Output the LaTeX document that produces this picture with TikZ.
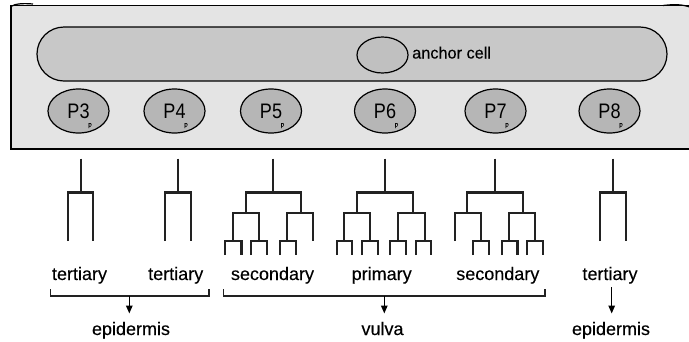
\documentclass[tikz,border=0pt]{standalone}
\usepackage{fontspec}
\setmainfont{Liberation Sans}
\newfontfamily\cellfont[FakeStretch=0.86]{Liberation Sans}
\newfontfamily\labfont[FakeBold=0.2]{Liberation Sans}
\usetikzlibrary{shapes.geometric,arrows.meta}

\definecolor{panel}{HTML}{E4E4E4}
\definecolor{gonad}{HTML}{C8C8C8}
\definecolor{pcell}{HTML}{B6B6B6}
\definecolor{acell}{HTML}{C0C0C0}
\definecolor{ink}{HTML}{222222}

\tikzset{
  lin/.style={draw=ink, line width=2.1pt, line join=miter},
  brk/.style={draw=ink, line width=1.4pt},
  arr/.style={draw=black, line width=1.4pt, -{Triangle[length=8pt,width=6.5pt]}},
  precursor/.style={ellipse, draw=black, line width=1.2pt, fill=pcell,
    minimum width=61pt, minimum height=44pt, inner sep=0pt,
    font=\cellfont\fontsize{21}{23}\selectfont},
  tinyp/.style={inner sep=0pt, font=\labfont\fontsize{6.5}{7}\selectfont},
  fate/.style={inner sep=0pt, anchor=base, font=\labfont\fontsize{18}{20}\selectfont},
}

% vertical stalk of a lineage
\newcommand\stalk[3]{\draw[lin] (#1,#2) -- (#1,#3);}
% inverted U: centre x, bar y, half width, bottom of left leg, bottom of right leg
\newcommand\ufork[5]{\draw[lin] ({#1-#3},#4) -- ({#1-#3},#2) -- ({#1+#3},#2) -- ({#1+#3},#5);}

\begin{document}
\begin{tikzpicture}[x=1pt,y=-1pt]
\useasboundingbox (0,0) rectangle (689,341);

% body wall panel
\begin{scope}
  \clip (0,0) rectangle (689,341);
  \draw[fill=panel, line width=1.4pt] (11,5.5) rectangle (700,149);
  \draw[line width=1.2pt] (11,6.5) .. controls (15,3.5) and (24,3.2) .. (33,4);
  \draw[line width=1.2pt] (663,5.5) .. controls (672,4.5) and (682,3.5) .. (692,8);
\end{scope}

% gonad and anchor cell
\draw[fill=gonad, line width=1.2pt, rounded corners=27pt] (37,27) rectangle (667,81);
\node[ellipse, draw=black, line width=1.2pt, fill=acell, minimum width=51pt,
  minimum height=36pt, inner sep=0pt] (ac) at (382.5,55) {};
\node[inner sep=0pt, anchor=base west, font=\labfont\fontsize{16.3}{18}\selectfont]
  (aclab) at (412,58.5) {anchor cell};

% vulval precursor cells
\foreach \n/\x in {3/78.5, 4/174.5, 5/271, 6/385, 7/495.5, 8/609.5} {
  \node[precursor] (p\n) at (\x,111) {P\n};
  \node[tinyp] (p\n s) at ([shift={(11.5,14.6)}]p\n.center) {p};
}

% lineages
% P3.p, P4.p: tertiary
\stalk{80.7}{158.5}{192.5}  \ufork{80.7}{192.5}{12.5}{241}{241}
\stalk{177.8}{158.5}{192.5} \ufork{177.8}{192.5}{12.8}{241}{241}
% P5.p: secondary
\stalk{273.3}{158.5}{192.5} \ufork{273.3}{192.5}{27.5}{213}{213}
\ufork{246}{213}{13.3}{240.8}{240.8}
\ufork{300.3}{213}{13}{240.8}{241}
\ufork{233.3}{240.8}{8.2}{255}{255}
\ufork{258.8}{240.8}{7.8}{255}{255}
\ufork{287.8}{240.8}{7.8}{255}{255}
% P6.p: primary
\stalk{384.6}{158.5}{192.5} \ufork{384.6}{192.5}{28}{213}{213}
\ufork{357}{213}{13}{240.8}{240.8}
\ufork{411.7}{213}{13.3}{240.8}{240.8}
\ufork{344.2}{240.8}{7.6}{255}{255}
\ufork{370}{240.8}{7.6}{255}{255}
\ufork{398}{240.8}{7.8}{255}{255}
\ufork{423.3}{240.8}{7.6}{255}{255}
% P7.p: secondary
\stalk{494.6}{158.5}{192.5} \ufork{494.6}{192.5}{28}{213}{213}
\ufork{468}{213}{13}{241}{240.8}
\ufork{522.2}{213}{12.8}{240.8}{240.8}
\ufork{480.8}{240.8}{8}{255}{255}
\ufork{509.7}{240.8}{7.8}{255}{255}
\ufork{535}{240.8}{7.7}{255}{255}
% P8.p: tertiary
\stalk{612.8}{158.5}{192.5} \ufork{612.8}{192.5}{12.8}{241}{241}

% fates
\node[fate] (f3) at (79.5,280) {tertiary};
\node[fate] (f4) at (175.7,280) {tertiary};
\node[fate] (f5) at (272.5,280) {secondary};
\node[fate] (f6) at (381.7,280) {primary};
\node[fate] (f7) at (497.8,280) {secondary};
\node[fate] (f8) at (610,280) {tertiary};

% tissues
\node[fate] (epiL) at (131,335) {epidermis};
\node[fate] (vul) at (382.5,335) {vulva};
\node[fate] (epiR) at (611,335) {epidermis};

% brackets and arrows
\draw[brk] (50.7,289) -- (50.7,296) -- (209,296) -- (209,289);
\draw[brk] (223.3,289) -- (223.3,296) -- (545,296) -- (545,289);
\coordinate (bL) at (129.3,296);
\coordinate (bM) at (384.3,296);
\coordinate (tL) at (129.3,313.5);
\coordinate (tM) at (384.3,313.5);
\coordinate (sR) at (611.7,287);
\coordinate (tR) at (611.7,313.5);
\draw[arr] (bL) -- (tL);
\draw[arr] (bM) -- (tM);
\draw[arr] (sR) -- (tR);
\end{tikzpicture}
\end{document}
